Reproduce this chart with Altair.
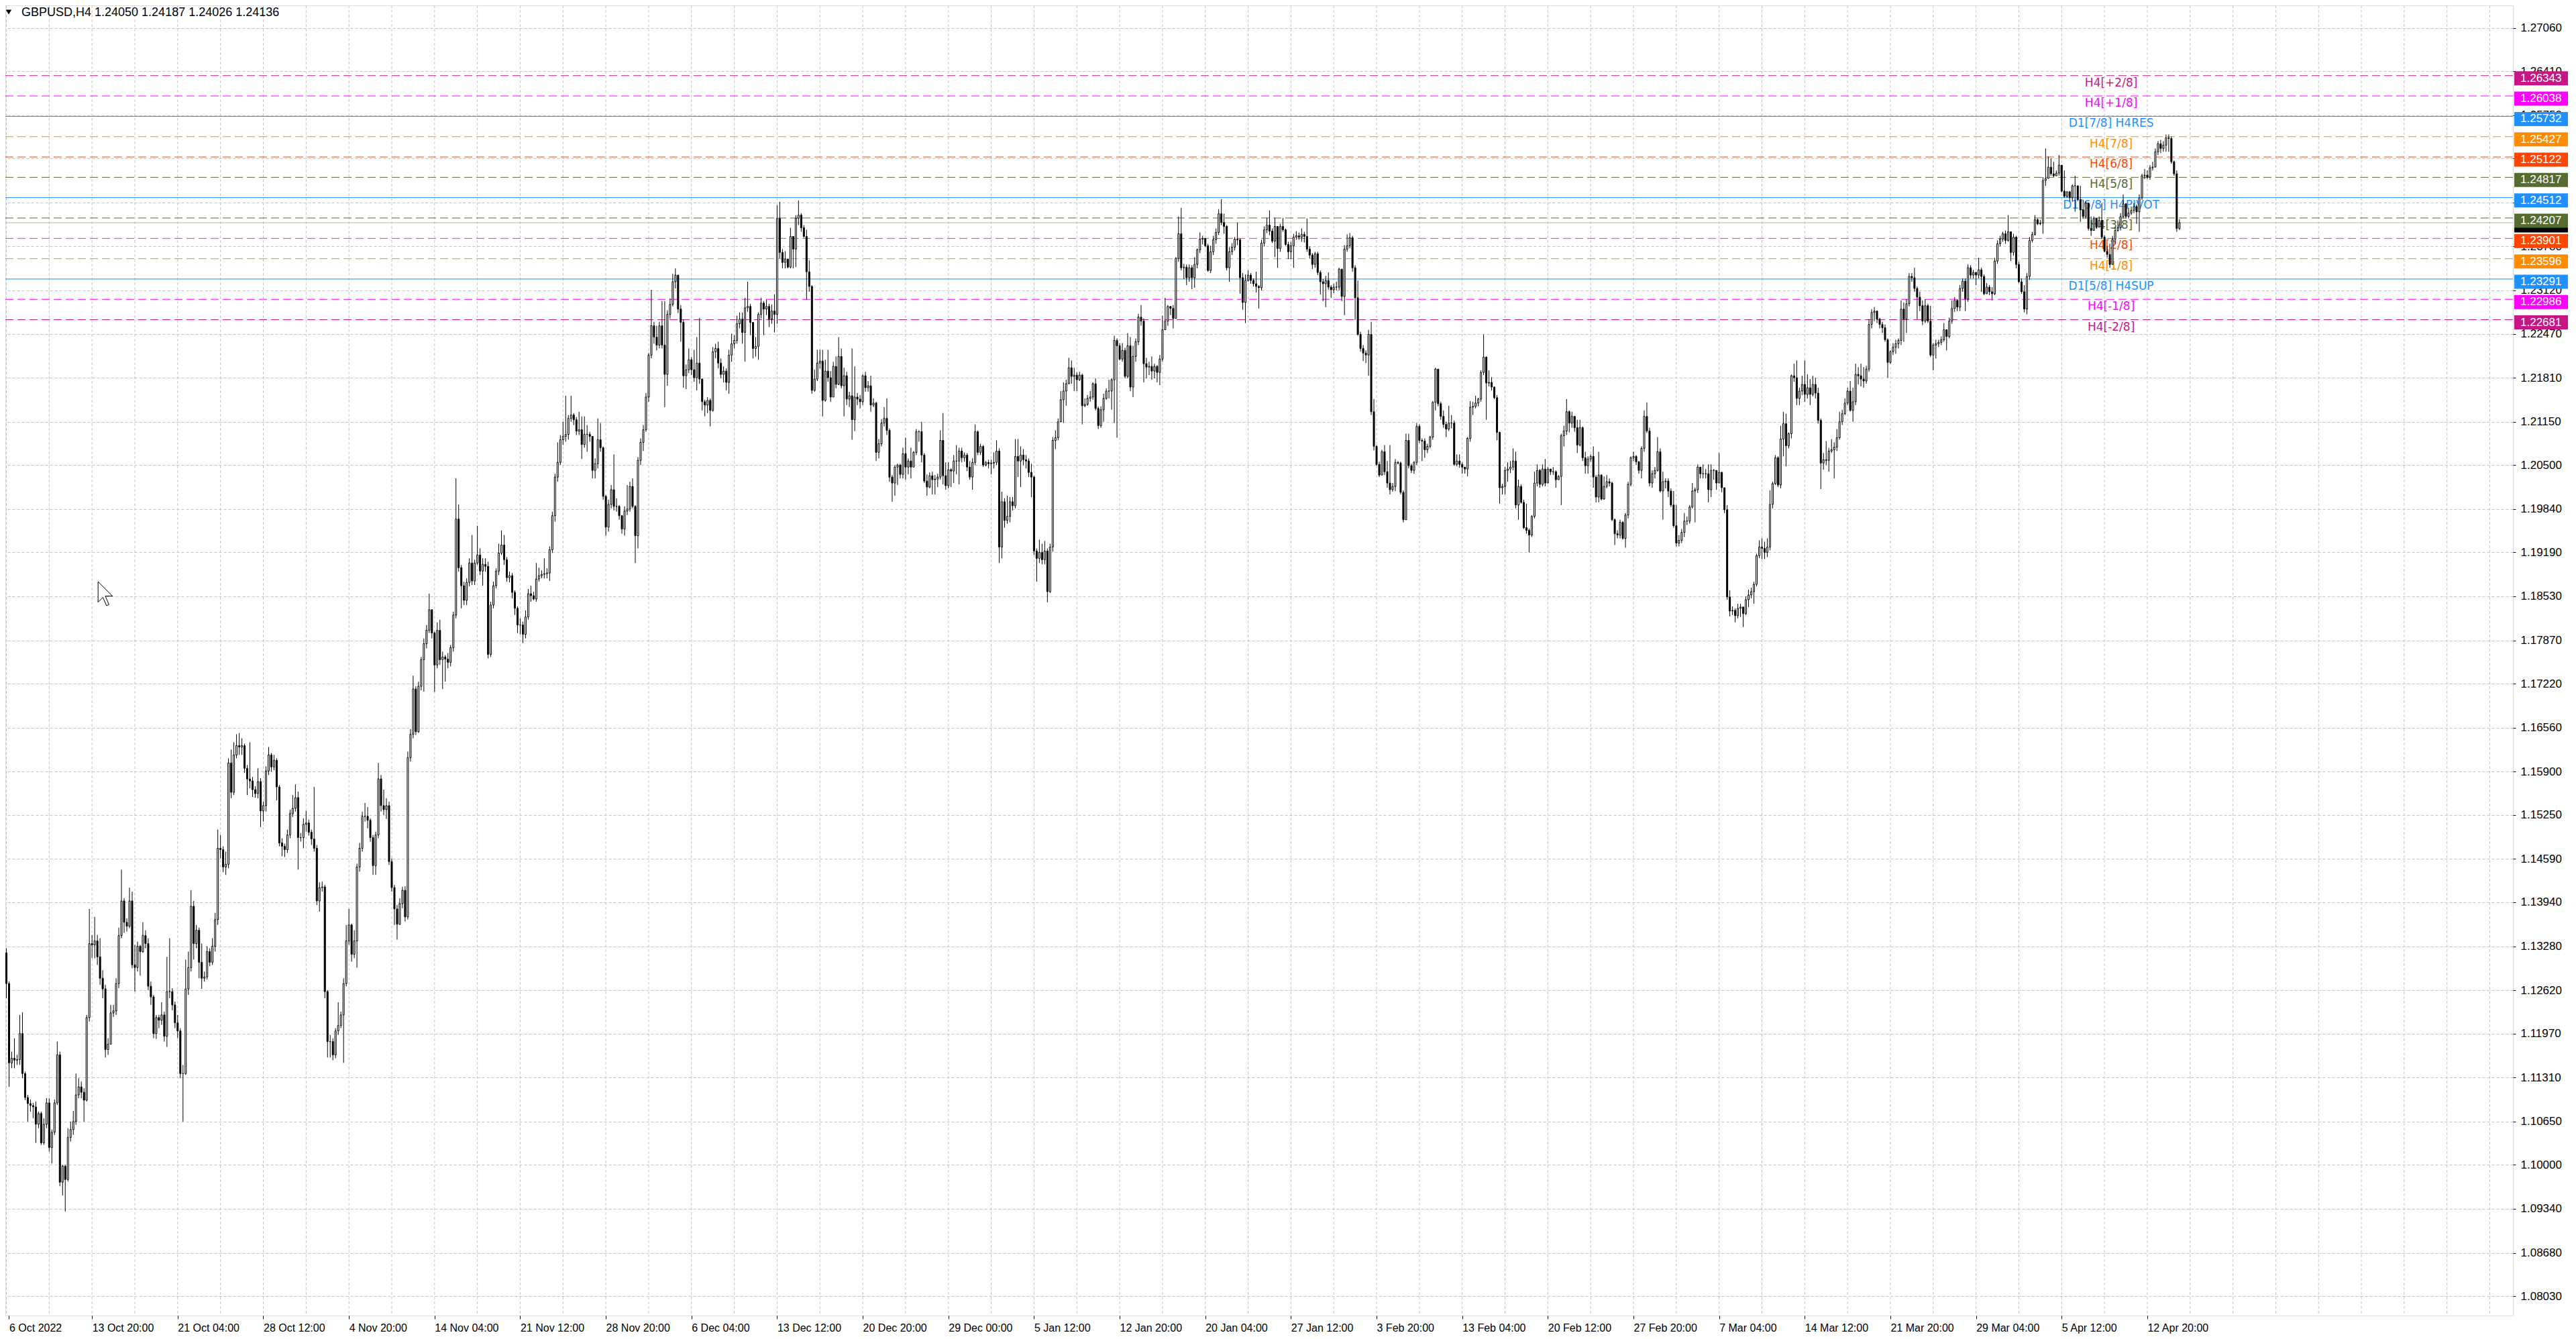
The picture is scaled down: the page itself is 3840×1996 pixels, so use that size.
import altair as alt
import pandas as pd

# ---------------- data (GBPUSD H4, prices in pips above 1.0000) ----------------
first_open = 1318
close = [
1272,1153,1160,1157,1158,1197,1137,1101,1092,1089,
1087,1061,1077,1033,1061,1093,1026,1049,1093,1165,
974,998,978,1041,1053,1065,1105,1117,1109,1097,
1221,1332,1330,1336,1312,1280,1264,1173,1181,1228,
1231,1272,1344,1396,1364,1358,1396,1300,1296,1328,
1320,1344,1332,1268,1252,1197,1221,1217,1225,1193,
1260,1260,1240,1213,1201,1137,1137,1264,1296,1388,
1332,1352,1304,1280,1282,1320,1304,1328,1368,1475,
1473,1447,1451,1603,1559,1615,1629,1627,1629,1595,
1579,1576,1563,1557,1575,1531,1539,1591,1615,1597,
1607,1567,1483,1478,1473,1495,1527,1535,1551,1491,
1491,1511,1513,1499,1489,1475,1396,1416,1417,1260,
1185,1185,1165,1201,1209,1225,1272,1336,1360,1316,
1336,1447,1475,1523,1523,1517,1491,1449,1495,1579,
1539,1533,1539,1455,1416,1384,1361,1392,1412,1372,
1611,1646,1714,1650,1718,1758,1782,1802,1833,1798,
1750,1802,1758,1762,1759,1754,1776,1825,1969,1896,
1869,1847,1874,1903,1876,1903,1915,1891,1901,1898,
1766,1840,1869,1891,1918,1930,1908,1881,1884,1859,
1835,1810,1810,1796,1822,1857,1854,1849,1879,1884,
1886,1887,1888,1923,1974,2032,2054,2088,2093,2096,
2120,2125,2118,2101,2103,2081,2096,2096,2093,2042,
2052,2088,2076,2003,1957,1991,2013,1988,1988,1974,
1954,1981,1984,2018,1988,1944,2057,2084,2103,2152,
2215,2259,2242,2230,2259,2230,2186,2276,2291,2325,
2335,2284,2264,2184,2193,2208,2193,2181,2203,2179,
2145,2140,2147,2132,2220,2225,2203,2186,2191,2174,
2215,2232,2237,2262,2269,2249,2286,2288,2264,2225,
2228,2276,2293,2284,2288,2269,2281,2276,2420,2369,
2354,2359,2347,2393,2374,2420,2425,2406,2393,2340,
2318,2162,2179,2203,2206,2147,2191,2181,2152,2198,
2171,2213,2169,2184,2149,2154,2118,2152,2149,2145,
2184,2166,2169,2140,2143,2069,2082,2113,2120,2102,
2032,2023,2047,2050,2036,2067,2047,2056,2047,2069,
2100,2100,2065,2026,2017,2034,2028,2029,2032,2087,
2034,2019,2043,2041,2056,2056,2071,2061,2065,2047,
2032,2054,2100,2069,2078,2050,2054,2052,2053,2054,
2071,1927,1995,1967,1973,1995,1989,2063,2056,2065,
2058,2056,2039,2032,1921,1910,1919,1908,1921,1860,
1927,2087,2091,2115,2148,2161,2172,2196,2183,2185,
2178,2185,2139,2141,2150,2152,2172,2135,2109,2133,
2150,2161,2161,2178,2237,2229,2209,2222,2183,2229,
2167,2213,2235,2272,2266,2202,2197,2198,2191,2198,
2189,2209,2253,2266,2288,2285,2270,2360,2397,2346,
2347,2331,2346,2331,2351,2373,2389,2390,2379,2342,
2370,2388,2399,2427,2414,2408,2346,2370,2377,2389,
2388,2331,2294,2327,2335,2327,2322,2318,2316,2383,
2403,2410,2401,2386,2408,2375,2408,2403,2381,2370,
2379,2392,2394,2392,2396,2393,2374,2365,2351,2367,
2339,2325,2322,2327,2317,2313,2317,2317,2344,2303,
2374,2379,2391,2346,2301,2246,2225,2218,2215,2246,
2130,2078,2051,2035,2070,2040,2023,2013,2018,2054,
2053,2009,1968,2087,2049,2042,2054,2108,2087,2086,
2073,2078,2092,2144,2194,2142,2123,2111,2104,2113,
2113,2051,2056,2051,2047,2044,2090,2137,2138,2143,
2149,2189,2212,2173,2174,2167,2151,2099,2016,2018,
2042,2044,2047,2056,1990,2018,1994,1956,1952,1945,
1973,2023,2042,2021,2044,2023,2044,2040,2040,2028,
2033,2094,2101,2130,2113,2123,2106,2080,2106,2061,
2049,2059,2063,2032,2002,2035,1999,2018,2025,2023,
1968,1947,1945,1964,1940,1975,2021,2061,2063,2055,
2042,2075,2123,2101,2023,2037,2042,2070,2011,2025,
2026,2011,1990,1959,1933,1937,1949,1966,1966,1987,
2011,2013,2047,2037,2037,2037,2013,2042,2042,2023,
2039,2016,1983,1852,1831,1832,1824,1835,1837,1827,
1848,1855,1860,1871,1914,1927,1925,1919,1927,1991,
2022,2061,2020,2089,2112,2079,2097,2184,2181,2150,
2161,2171,2156,2166,2156,2171,2158,2117,2053,2058,
2057,2071,2073,2077,2091,2115,2127,2143,2161,2132,
2145,2186,2184,2179,2176,2194,2261,2279,2281,2269,
2261,2256,2238,2204,2220,2227,2232,2237,2284,2269,
2292,2333,2331,2315,2302,2289,2266,2289,2266,2215,
2230,2232,2234,2238,2253,2243,2266,2285,2297,2287,
2315,2326,2299,2346,2335,2339,2335,2343,2333,2307,
2317,2310,2307,2356,2382,2389,2397,2387,2400,2369,
2392,2351,2325,2310,2284,2333,2387,2396,2418,2412,
2413,2477,2480,2497,2487,2484,2488,2500,2461,2453,
2460,2451,2469,2469,2448,2433,2423,2443,2405,2402,
2420,2407,2417,2392,2371,2366,2351,2389,2402,2406,
2423,2442,2423,2428,2432,2438,2430,2451,2484,2485,
2482,2496,2497,2520,2532,2525,2530,2541,2540,2505,
2487,2405,2413.6,
]
high = [
1325,1275,1170,1190,1165,1225,1229,1140,1105,1098,
1093,1095,1080,1080,1070,1100,1100,1053,1098,1185,
1170,1000,1000,1055,1065,1081,1137,1130,1125,1115,
1225,1384,1345,1372,1345,1340,1292,1270,1190,1240,
1240,1280,1356,1443,1400,1370,1416,1410,1330,1335,
1330,1364,1352,1340,1275,1255,1225,1225,1244,1230,
1312,1340,1265,1245,1225,1205,1150,1308,1320,1412,
1396,1360,1356,1332,1290,1328,1325,1340,1378,1503,
1495,1478,1470,1610,1623,1634,1646,1648,1640,1632,
1600,1634,1582,1568,1595,1580,1545,1598,1627,1618,
1615,1610,1570,1490,1482,1503,1533,1555,1571,1560,
1498,1520,1531,1518,1503,1567,1480,1424,1425,1420,
1262,1195,1190,1205,1244,1230,1280,1360,1384,1362,
1352,1452,1483,1530,1543,1537,1520,1495,1500,1603,
1585,1563,1550,1545,1460,1420,1390,1400,1417,1418,
1620,1654,1734,1718,1725,1762,1790,1810,1857,1810,
1800,1814,1818,1770,1765,1768,1780,1830,2030,1991,
1900,1875,1880,1910,1945,1908,1959,1925,1910,1910,
1905,1845,1875,1895,1932,1952,1945,1912,1890,1888,
1862,1838,1820,1815,1832,1864,1869,1860,1903,1896,
1892,1910,1895,1928,1980,2037,2084,2095,2115,2154,
2125,2154,2128,2122,2130,2123,2123,2110,2100,2076,
2060,2120,2113,2078,2005,1998,2020,2066,2000,1990,
1975,1988,2020,2025,2030,1990,2062,2090,2110,2158,
2218,2313,2265,2259,2265,2296,2296,2282,2300,2337,
2345,2335,2290,2268,2201,2225,2212,2223,2242,2271,
2180,2148,2152,2150,2227,2232,2235,2210,2198,2195,
2223,2247,2245,2274,2279,2279,2301,2325,2292,2262,
2242,2279,2301,2296,2298,2292,2291,2306,2440,2445,
2374,2371,2360,2406,2393,2425,2447,2428,2410,2403,
2357,2320,2193,2223,2223,2223,2208,2223,2191,2205,
2213,2242,2225,2196,2190,2160,2225,2198,2158,2155,
2186,2190,2176,2184,2150,2145,2089,2119,2137,2150,
2105,2035,2050,2052,2052,2076,2091,2060,2076,2071,
2104,2102,2115,2068,2036,2039,2040,2035,2037,2102,
2128,2054,2054,2045,2065,2080,2076,2076,2069,2068,
2056,2060,2111,2102,2082,2080,2056,2058,2058,2069,
2087,2075,2010,2000,2004,2002,2002,2089,2089,2078,
2074,2065,2060,2052,2034,1925,1938,1932,1936,1925,
1932,2092,2102,2120,2161,2174,2178,2211,2207,2196,
2189,2190,2187,2150,2155,2161,2174,2180,2138,2138,
2157,2165,2178,2180,2244,2240,2233,2233,2226,2248,
2242,2229,2240,2277,2290,2270,2211,2205,2213,2202,
2200,2215,2274,2301,2290,2288,2290,2362,2423,2436,
2352,2351,2351,2350,2362,2375,2399,2394,2388,2382,
2379,2394,2405,2434,2449,2427,2410,2377,2383,2392,
2414,2390,2338,2336,2342,2338,2330,2340,2320,2388,
2408,2421,2432,2405,2421,2399,2412,2421,2405,2385,
2385,2397,2401,2399,2405,2400,2420,2378,2368,2370,
2370,2342,2329,2334,2339,2320,2322,2325,2346,2344,
2380,2396,2398,2394,2350,2327,2250,2230,2222,2253,
2265,2149,2080,2055,2073,2080,2056,2080,2023,2059,
2056,2055,2012,2097,2097,2052,2056,2113,2111,2090,
2090,2082,2094,2146,2196,2194,2145,2132,2115,2139,
2125,2117,2066,2066,2054,2047,2092,2146,2145,2154,
2151,2192,2246,2213,2192,2182,2168,2155,2100,2022,
2047,2054,2056,2075,2070,2028,2021,1998,1992,1955,
1975,2040,2051,2044,2051,2059,2047,2044,2047,2042,
2035,2097,2109,2149,2132,2130,2123,2118,2118,2108,
2070,2063,2066,2078,2035,2070,2036,2033,2035,2030,
2025,1970,1952,1968,1966,1978,2025,2063,2070,2065,
2056,2078,2132,2144,2106,2042,2047,2092,2075,2040,
2030,2030,2015,2011,1990,1945,1954,1978,1973,1990,
2023,2016,2051,2047,2051,2044,2051,2051,2044,2042,
2068,2040,2016,1990,1862,1838,1835,1842,1842,1837,
1853,1863,1866,1875,1917,1937,1940,1935,1940,2012,
2025,2065,2063,2109,2130,2127,2099,2186,2202,2207,
2166,2184,2207,2186,2179,2184,2181,2166,2120,2068,
2086,2076,2089,2084,2104,2130,2133,2150,2166,2176,
2166,2202,2197,2202,2197,2199,2269,2284,2287,2279,
2271,2265,2261,2240,2222,2233,2238,2240,2297,2294,
2299,2338,2338,2346,2318,2310,2297,2299,2292,2289,
2233,2238,2238,2243,2263,2253,2271,2297,2302,2299,
2320,2330,2330,2351,2350,2343,2340,2361,2346,2336,
2323,2320,2317,2361,2387,2394,2400,2402,2425,2400,
2397,2394,2355,2330,2320,2338,2392,2400,2425,2420,
2418,2482,2525,2513,2510,2505,2492,2515,2495,2492,
2461,2461,2471,2484,2469,2469,2448,2446,2433,2423,
2423,2420,2423,2443,2395,2379,2382,2394,2407,2417,
2428,2456,2441,2436,2438,2443,2441,2456,2487,2494,
2492,2500,2505,2525,2536,2538,2536,2546,2546,2543,
2507,2492,2418.7,
]
low = [
1250,1117,1145,1145,1150,1150,1130,1097,1065,1080,
1070,1033,1055,1030,1030,1055,1020,1002,1045,1090,
968,954,930,975,1035,1045,1060,1100,1100,1065,
1095,1215,1310,1310,1300,1270,1250,1161,1165,1213,
1222,1225,1265,1340,1348,1350,1355,1295,1260,1290,
1284,1318,1325,1262,1240,1190,1189,1205,1210,1185,
1177,1250,1232,1205,1190,1130,1065,1135,1255,1290,
1308,1325,1280,1264,1275,1278,1298,1300,1320,1360,
1460,1439,1435,1445,1550,1555,1610,1615,1615,1588,
1555,1565,1552,1551,1550,1507,1515,1530,1585,1590,
1592,1547,1478,1463,1462,1468,1490,1522,1530,1443,
1485,1475,1500,1494,1480,1470,1390,1380,1410,1250,
1161,1161,1157,1160,1195,1205,1153,1268,1330,1305,
1310,1296,1440,1470,1515,1505,1485,1435,1435,1490,
1530,1525,1519,1450,1410,1360,1338,1360,1385,1365,
1368,1605,1640,1645,1648,1712,1710,1775,1798,1790,
1710,1745,1750,1714,1725,1745,1748,1770,1820,1890,
1835,1840,1840,1868,1870,1870,1900,1885,1869,1890,
1760,1762,1835,1865,1885,1915,1900,1875,1874,1850,
1825,1798,1796,1783,1790,1818,1845,1847,1845,1875,
1880,1880,1880,1876,1918,1965,2025,2050,2080,2085,
2088,2115,2110,2095,2095,2059,2076,2070,2085,2030,
2030,2045,2070,1998,1944,1950,1985,1982,1980,1968,
1947,1944,1975,1980,1985,1903,1925,2050,2071,2100,
2145,2210,2232,2222,2225,2225,2137,2169,2270,2288,
2315,2278,2235,2166,2164,2188,2185,2175,2162,2172,
2132,2123,2128,2108,2130,2210,2195,2180,2174,2162,
2157,2205,2225,2232,2255,2232,2205,2280,2245,2210,
2213,2208,2270,2245,2275,2257,2262,2249,2262,2360,
2345,2345,2345,2345,2345,2347,2410,2400,2391,2298,
2310,2157,2160,2176,2195,2123,2145,2175,2145,2162,
2165,2170,2165,2123,2140,2137,2088,2101,2140,2135,
2140,2160,2160,2130,2137,2056,2060,2078,2108,2095,
2025,1995,2004,2020,2030,2030,2028,2036,2030,2063,
2065,2085,2054,2023,2004,2015,2006,2006,2017,2028,
2021,2013,2015,2017,2023,2036,2021,2054,2055,2041,
2028,2013,2050,2065,2065,2047,2048,2045,2036,2045,
2050,1903,1910,1956,1962,1964,1982,1985,2032,2017,
2050,2045,2032,2002,1915,1875,1903,1901,1901,1844,
1858,1920,2074,2087,2115,2113,2139,2172,2172,2161,
2161,2176,2111,2137,2139,2145,2148,2132,2104,2106,
2115,2148,2150,2133,2113,2091,2207,2205,2180,2180,
2161,2152,2205,2230,2259,2174,2180,2185,2178,2180,
2174,2170,2205,2253,2259,2275,2255,2281,2355,2342,
2329,2320,2325,2314,2316,2345,2368,2381,2377,2340,
2338,2365,2382,2395,2410,2397,2342,2325,2365,2372,
2380,2307,2283,2263,2325,2322,2318,2309,2285,2312,
2378,2398,2395,2383,2362,2346,2370,2400,2379,2359,
2359,2346,2388,2388,2385,2384,2370,2360,2344,2346,
2335,2306,2296,2287,2313,2301,2308,2312,2312,2296,
2275,2370,2375,2340,2268,2244,2220,2206,2203,2184,
2125,2072,2049,2032,2035,2035,2016,2006,2010,2011,
2051,2006,1964,1968,2045,2038,2037,2050,2083,2056,
2061,2068,2075,2088,2132,2138,2118,2106,2092,2101,
2105,2049,2048,2046,2037,2037,2033,2085,2125,2135,
2138,2145,2185,2118,2168,2162,2149,2087,1992,2006,
2006,2025,2038,2042,1985,1968,1992,1954,1947,1919,
1942,1970,2018,2016,2018,2018,2023,2035,2035,2016,
2028,1990,2078,2095,2099,2106,2100,2068,2078,2056,
2037,2037,2055,2016,1994,1994,1997,1998,2015,2018,
1966,1930,1940,1940,1938,1926,1970,2018,2056,2050,
2037,2030,2070,2098,2018,2016,2030,2040,2009,1968,
2015,2002,1987,1956,1928,1928,1933,1942,1960,1962,
1985,1964,2008,2030,2030,2030,1994,2002,2028,2013,
2035,2009,1978,1848,1823,1825,1814,1820,1822,1807,
1825,1837,1850,1842,1868,1910,1909,1909,1912,1922,
1985,2020,2017,2015,2063,2048,2075,2090,2175,2140,
2140,2155,2145,2150,2140,2153,2150,2112,2014,2043,
2050,2040,2068,2030,2071,2088,2110,2125,2140,2130,
2115,2140,2171,2168,2166,2172,2190,2255,2266,2263,
2255,2248,2235,2181,2202,2215,2217,2225,2230,2235,
2248,2288,2325,2310,2269,2281,2260,2263,2263,2212,
2192,2210,2227,2230,2235,2222,2240,2262,2280,2281,
2281,2310,2281,2295,2330,2330,2320,2330,2310,2305,
2307,2305,2297,2305,2352,2378,2385,2382,2385,2356,
2364,2345,2323,2307,2279,2276,2328,2384,2394,2410,
2410,2397,2469,2482,2484,2482,2484,2484,2459,2451,
2451,2446,2445,2430,2446,2415,2420,2420,2402,2394,
2402,2405,2407,2389,2369,2361,2346,2351,2382,2400,
2402,2420,2420,2420,2425,2428,2412,2400,2448,2479,
2479,2478,2492,2505,2515,2518,2520,2520,2520,2502,
2484,2400,2402.6,
]

x_labels = ["6 Oct 2022", "13 Oct 20:00", "21 Oct 04:00", "28 Oct 12:00", "4 Nov 20:00",
            "14 Nov 04:00", "21 Nov 12:00", "28 Nov 20:00", "6 Dec 04:00", "13 Dec 12:00",
            "20 Dec 20:00", "29 Dec 00:00", "5 Jan 12:00", "12 Jan 20:00", "20 Jan 04:00",
            "27 Jan 12:00", "3 Feb 20:00", "13 Feb 04:00", "20 Feb 12:00", "27 Feb 20:00",
            "7 Mar 04:00", "14 Mar 12:00", "21 Mar 20:00", "29 Mar 04:00", "5 Apr 12:00",
            "12 Apr 20:00"]
y_ticks = [1.27060, 1.26410, 1.25750, 1.25100, 1.24440, 1.23780, 1.23120, 1.22470, 1.21810,
           1.21150, 1.20500, 1.19840, 1.19190, 1.18530, 1.17870, 1.17220, 1.16560, 1.15900,
           1.15250, 1.14590, 1.13940, 1.13280, 1.12620, 1.11970, 1.11310, 1.10650, 1.10000,
           1.09340, 1.08680, 1.08030]

level_names = ["H4[+2/8]", "H4[+1/8]", "D1[7/8] H4RES", "H4[7/8]", "H4[6/8]", "H4[5/8]",
               "D1[6/8] H4PIVOT", "H4[3/8]", "H4[2/8]", "H4[1/8]", "D1[5/8] H4SUP",
               "H4[-1/8]", "H4[-2/8]"]
level_prices = [1.26343, 1.26038, 1.25732, 1.25427, 1.25122, 1.24817, 1.24512, 1.24207,
                1.23901, 1.23596, 1.23291, 1.22986, 1.22681]
level_colors = ["#C71585", "#FF00FF", "#1E90FF", "#FF8C00", "#FF4500", "#556B2F",
                "#1E90FF", "#556B2F", "#FF4500", "#FF8C00", "#1E90FF", "#FF00FF", "#C71585"]
level_solid = [False, False, True, False, False, False, True, False, False, False, True,
               False, False]

title_text = "GBPUSD,H4  1.24050 1.24187 1.24026 1.24136"
bid_price = 1.24136

# ---------------- tables ----------------
n = len(close)
assert len(high) == n and len(low) == n, (len(close), len(high), len(low))
opens = [first_open] + close[:-1]
rows = []
for i in range(n):
    o, c = opens[i], close[i]
    h = max(high[i], o, c)
    l = min(low[i], o, c)
    rows.append({"i": i, "o": 1 + o / 1e4, "c": 1 + c / 1e4,
                 "h": 1 + h / 1e4, "l": 1 + l / 1e4,
                 "fill": "white" if c >= o else "black"})
candles = pd.DataFrame(rows)

levels = pd.DataFrame({"name": level_names, "p": level_prices, "col": level_colors,
                       "solid": level_solid, "i": [786.5] * len(level_names)})
levels["tag"] = levels["p"].map(lambda v: f"{v:.5f}")

W, H = 3738, 1953
X0 = 0.875
xs = alt.Scale(domain=[X0, X0 + W / 4], nice=False, zero=False)
ys = alt.Scale(domain=[1.077395, 1.273972], nice=False, zero=False)

AXFONT = "Liberation Sans"
label_js = "[" + ",".join("'" + s + "'" for s in x_labels) + "]"
xaxis = alt.Axis(values=[1] + list(range(32, 801, 32)),
                 labelExpr=label_js + "[round(datum.value/32)]",
                 title=None, grid=False, domain=False, ticks=True, tickSize=5,
                 tickColor="black", labelAlign="left", labelBaseline="top",
                 labelPadding=5, labelFont=AXFONT, labelFontSize=16, labelColor="black",
                 labelFlush=False, labelOverlap=False, labelBound=False)
yaxis = alt.Axis(orient="right", values=y_ticks, format=".5f", title=None, grid=True,
                 gridColor="#c4c4c4", gridDash=[4, 3], domain=False, ticks=True,
                 tickSize=4, tickColor="black", labelPadding=7, labelFont=AXFONT,
                 labelFontSize=17, labelColor="black", labelBaseline="middle",
                 labelOverlap=False, labelFlush=False, labelBound=False)

X = lambda f: alt.X(f, scale=xs, axis=xaxis, title=None)
Y = lambda f: alt.Y(f, scale=ys, axis=yaxis, title=None)

grid_df = pd.DataFrame({"i": list(range(0, 936, 16))})
vgrid = alt.Chart(grid_df).mark_rule(color="#c4c4c4", strokeDash=[4, 3], strokeWidth=1,
                                     clip=True).encode(x=X("i:Q"))

dashed = alt.Chart(levels[~levels["solid"]]).mark_rule(strokeWidth=1, strokeDash=[12, 6]).encode(
    y=Y("p:Q"), color=alt.Color("col:N", scale=None))
solid = alt.Chart(levels[levels["solid"]]).mark_rule(strokeWidth=1).encode(
    y=Y("p:Q"), color=alt.Color("col:N", scale=None))
bid_df = pd.DataFrame({"p": [bid_price], "tag": [f"{bid_price:.5f}"]})
bidline = alt.Chart(bid_df).mark_rule(strokeWidth=1, color="#b4b4b4").encode(y=Y("p:Q"))

level_text = alt.Chart(levels).mark_text(align="center", baseline="middle", dy=11,
                                         font="DejaVu Sans", fontSize=17).encode(
    x=X("i:Q"), y=Y("p:Q"), text="name:N", color=alt.Color("col:N", scale=None))

wicks = alt.Chart(candles).mark_rule(color="black", strokeWidth=1, clip=True).encode(
    x=X("i:Q"), y=Y("l:Q"), y2="h:Q")
bodies = alt.Chart(candles).mark_bar(size=2, stroke="black", strokeWidth=1, clip=True).encode(
    x=X("i:Q"), y=Y("o:Q"), y2="c:Q", fill=alt.Fill("fill:N", scale=None))

TAG = "M-1,-0.2625L1,-0.2625L1,0.2625L-1,0.2625Z"
bid_tag = alt.Chart(bid_df).mark_point(shape=TAG, size=6400, filled=True, opacity=1,
                                        color="black").encode(
    x=alt.value(3780), y=Y("p:Q"), yOffset=alt.value(4))
tags = alt.Chart(levels).mark_point(shape=TAG, size=6400, filled=True, opacity=1).encode(
    x=alt.value(3780), y=Y("p:Q"), yOffset=alt.value(4),
    color=alt.Color("col:N", scale=None))
tag_text = alt.Chart(levels).mark_text(align="left", baseline="middle", dy=4, font=AXFONT,
                                       fontSize=17, color="white").encode(
    x=alt.value(3749), y=Y("p:Q"), text="tag:N")

head_df = pd.DataFrame({"t": [title_text]})
head = alt.Chart(head_df).mark_text(align="left", baseline="middle", font=AXFONT,
                                     fontSize=18, color="black").encode(
    x=alt.value(24), y=alt.value(11), text="t:N")
tri = alt.Chart(head_df).mark_point(shape="triangle-down", size=70, filled=True,
                                     opacity=1, color="black").encode(
    x=alt.value(5), y=alt.value(10))

# mouse pointer visible in the reference screenshot
CURSOR = "M-0.6,-1L-0.6,0.7L-0.2,0.3L0.1,1L0.3,0.9L0,0.2L0.6,0.2Z"
cursor = alt.Chart(head_df).mark_point(shape=CURSOR, size=1296, filled=True, opacity=1,
                                        fill="white", stroke="black", strokeWidth=1).encode(
    x=alt.value(149), y=alt.value(877))

chart = alt.layer(vgrid, dashed, solid, bidline, level_text, wicks, bodies,
                  bid_tag, tags, tag_text, head, tri, cursor).properties(
    width=W, height=H,
    padding={"left": 0, "top": 0, "right": 86, "bottom": 27},
    autosize=alt.AutoSizeParams(type="none"),
).configure_view(stroke="black", strokeWidth=1).configure(background="white")

chart.save("out.html", embed_options={"renderer": "svg", "actions": False})
